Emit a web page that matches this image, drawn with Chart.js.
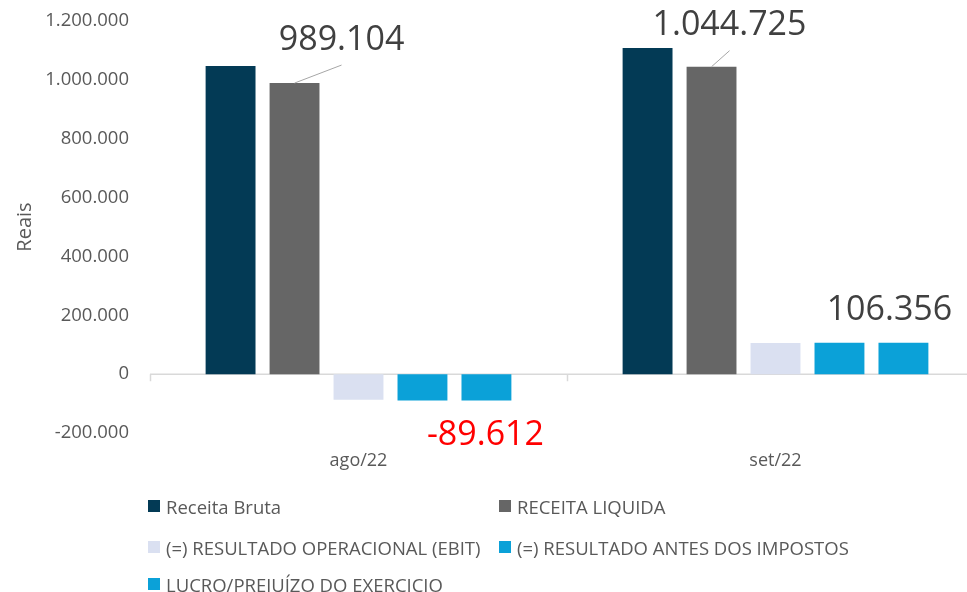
<!DOCTYPE html>
<html lang="pt-BR">
<head>
<meta charset="utf-8">
<script src="https://cdn.jsdelivr.net/npm/chart.js@4.4.0/dist/chart.umd.min.js"></script>
<style>
  html, body { margin: 0; padding: 0; background: #fff; overflow: hidden; }
  #wrap { position: relative; width: 984px; height: 592px; }
  #legend { position: absolute; left: 0; top: 0; font-family: "Open Sans", sans-serif; font-size: 18.5px; color: #595959; }
  .item { position: absolute; white-space: nowrap; display: flex; align-items: center; height: 24px; }
  .box { width: 12px; height: 12px; margin-right: 6px; }
</style>
</head>
<body>
<div id="wrap">
  <canvas id="dre-chart" width="984" height="592"></canvas>
  <div id="legend"></div>
</div>
<script>
// dados
const meses = ["ago/22", "set/22"];
const receitaBruta = [1047000, 1108000];
const receitaLiquida = [989104, 1044725];
const ebit = [-86700, 105500];
const antesImpostos = [-89612, 106356];
const lucroPrejuizo = [-89612, 106356];

const nomes = [
  "Receita Bruta",
  "RECEITA LIQUIDA",
  "(=) RESULTADO OPERACIONAL (EBIT)",
  "(=) RESULTADO ANTES DOS IMPOSTOS",
  "LUCRO/PREJUÍZO DO EXERCICIO",
];
const cores = ["#033A55", "#666666", "#DAE0F1", "#0BA1D8", "#0BA1D8"];
const series = [receitaBruta, receitaLiquida, ebit, antesImpostos, lucroPrejuizo];

const yMin = -200000;
const yMax = 1200000;
const yPasso = 200000;

function formatBR(v) {
  const s = Math.abs(Math.round(v)).toString().replace(/\B(?=(\d{3})+(?!\d))/g, ".");
  return (v < 0 ? "-" : "") + s;
}

const FONT = "'Open Sans', sans-serif";

// rótulos de dados (só Receita Líquida e Lucro/Prejuízo), deslocamentos em px
const rotulos = {
  1: [{ dx: 47, dy: -43, line: true }, { dx: 18, dy: -41, line: true }],
  4: [{ dx: -1, dy: 35 }, { dx: -14, dy: -33 }],
};

const labelsPlugin = {
  id: "rotulos",
  afterDatasetsDraw(chart) {
    const ctx = chart.ctx;
    ctx.save();
    ctx.font = "34px " + FONT;
    ctx.textAlign = "center";
    ctx.textBaseline = "middle";
    Object.keys(rotulos).forEach((dsIndex) => {
      const meta = chart.getDatasetMeta(+dsIndex);
      meta.data.forEach((bar, i) => {
        const cfg = rotulos[dsIndex][i];
        const v = chart.data.datasets[dsIndex].data[i];
        const lx = bar.x + cfg.dx;
        const ly = bar.y + cfg.dy;
        if (cfg.line) {
          ctx.strokeStyle = "#A6A6A6";
          ctx.lineWidth = 1;
          ctx.beginPath();
          ctx.moveTo(bar.x, bar.y);
          ctx.lineTo(lx, ly + 25);
          ctx.stroke();
        }
        ctx.fillStyle = v < 0 ? "#FF0000" : "#404040";
        ctx.fillText(formatBR(v), lx, ly);
      });
    });
    ctx.restore();
  },
};

// eixo horizontal no zero com marcas entre categorias
const zeroAxisPlugin = {
  id: "eixoZero",
  beforeDatasetsDraw(chart) {
    const ctx = chart.ctx;
    const y = chart.scales.y.getPixelForValue(0);
    const area = chart.chartArea;
    ctx.save();
    ctx.strokeStyle = "#D9D9D9";
    ctx.lineWidth = 1.5;
    ctx.beginPath();
    ctx.moveTo(area.left, y);
    ctx.lineTo(area.right, y);
    const w = (area.right - area.left) / meses.length;
    for (let i = 0; i <= meses.length; i++) {
      const tx = Math.round(area.left + i * w) + 0.5;
      ctx.moveTo(tx, y);
      ctx.lineTo(tx, y + 7);
    }
    ctx.stroke();
    ctx.restore();
  },
};

const ctx = document.getElementById("dre-chart");
const chart = new Chart(ctx, {
  type: "bar",
  data: {
    labels: meses,
    datasets: series.map((dados, i) => ({
      label: nomes[i],
      data: dados,
      backgroundColor: cores[i],
      borderWidth: 0,
      categoryPercentage: 0.767,
      barPercentage: 0.78,
    })),
  },
  options: {
    responsive: false,
    animation: false,
    layout: { padding: { top: 21, bottom: 114, left: 0, right: 0 } },
    plugins: {
      legend: { display: false },
      tooltip: { enabled: false },
    },
    scales: {
      x: {
        grid: { display: false, drawTicks: false },
        border: { display: false },
        ticks: { color: "#595959", font: { family: FONT, size: 18 }, padding: 17 },
        afterFit(scale) { scale.height = 45; },
      },
      y: {
        min: yMin,
        max: yMax,
        // marcas invisíveis só para afastar os rótulos do eixo
        grid: { display: false, drawTicks: true, tickLength: 13 },
        border: { display: false },
        ticks: {
          stepSize: yPasso,
          color: "#595959",
          font: { family: FONT, size: 18.5 },
          padding: 8,
          callback: (v) => formatBR(v),
        },
        title: {
          display: true,
          text: "Reais",
          color: "#595959",
          font: { family: FONT, size: 20 },
          padding: { top: 13, bottom: 0 },
        },
        afterFit(scale) { scale.width = 150; },
      },
    },
  },
  plugins: [zeroAxisPlugin, labelsPlugin],
});

// legenda em duas colunas, como no original
const legendPos = [
  { x: 148, y: 506 },
  { x: 499, y: 506 },
  { x: 148, y: 547 },
  { x: 499, y: 547 },
  { x: 148, y: 584 },
];
const legend = document.getElementById("legend");
nomes.forEach((nome, i) => {
  const el = document.createElement("div");
  el.className = "item";
  el.style.left = legendPos[i].x + "px";
  el.style.top = legendPos[i].y - 12 + "px";
  el.innerHTML = '<span class="box" style="background:' + cores[i] + '"></span><span>' + nome + "</span>";
  legend.appendChild(el);
});
</script>
</body>
</html>
